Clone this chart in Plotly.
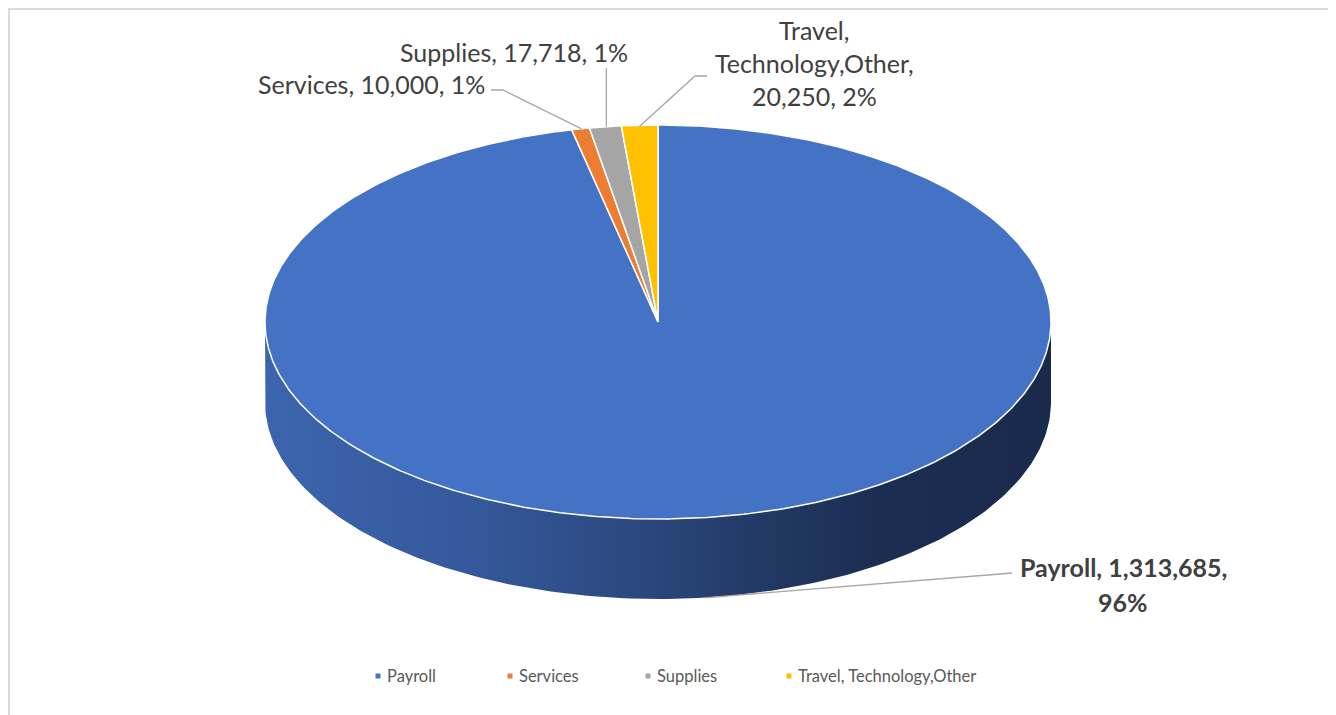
import numpy as np
import plotly.graph_objects as go

# ---- data ----
categories = ["Payroll", "Services", "Supplies", "Travel, Technology,Other"]
values = [1313685, 10000, 17718, 20250]
pct_labels = ["96%", "1%", "1%", "2%"]
colors = ["#4472C4", "#ED7D31", "#A5A5A5", "#FFC000"]

# ---- geometry (pixel-like data space; page has an 8px body margin) ----
W, H = 1336, 715
OFF = 8
cx, cy, rx, ry, depth = 658, 322, 393, 197, 80
FONT = "Lato"
TXT = "#404040"

def ell(theta_deg, dy=0.0):
    t = np.radians(theta_deg)
    return cx + rx * np.sin(t), cy - ry * np.cos(t) + dy

total = float(sum(values))
fracs = [v / total for v in values]
cum = np.concatenate([[0], np.cumsum(fracs)])

fig = go.Figure()

# side face (front half of the cylinder wall)
th = np.linspace(90, 270, 200)
xt, yt = ell(th)
xb, yb = ell(th[::-1], depth)
fig.add_trace(go.Scatter(
    x=np.concatenate([xt, xb]), y=np.concatenate([yt, yb]),
    mode="lines", fill="toself", line=dict(width=0, color="rgba(0,0,0,0)"),
    fillgradient=dict(type="horizontal", colorscale=[
        [0.0, "#3C65AD"], [0.25, "#35599C"], [0.45, "#2C4A82"],
        [0.62, "#223A66"], [0.78, "#1C2D52"], [1.0, "#1A2A4C"]]),
    hoverinfo="skip", showlegend=False))

# top face slices
for i, (cat, col) in enumerate(zip(categories, colors)):
    a0, a1 = cum[i] * 360, cum[i + 1] * 360
    n = max(4, int((a1 - a0) * 2))
    tt = np.linspace(a0, a1, n)
    xs, ys = ell(tt)
    fig.add_trace(go.Scatter(
        x=np.concatenate([[cx], xs, [cx]]), y=np.concatenate([[cy], ys, [cy]]),
        mode="lines", fill="toself", fillcolor=col,
        line=dict(color="white", width=1.5),
        hoverinfo="skip", showlegend=False, name=cat))

# leader lines and labels
mids = [(cum[i] + cum[i + 1]) / 2 * 360 for i in range(len(values))]
line_col = "#A6A6A6"

def leader(pts):
    fig.add_trace(go.Scatter(x=[p[0] for p in pts], y=[p[1] for p in pts],
                             mode="lines", line=dict(color=line_col, width=1.3),
                             hoverinfo="skip", showlegend=False))

px, py = ell(mids[0], depth)
leader([(1012, 573), (1000, 574), (px + 3, py)])
sx, sy = ell(mids[1])
leader([(491, 90), (503, 90), (sx + 1, sy)])
ux, uy = ell(mids[2])
leader([(ux + 1, 68), (ux + 1, uy)])
tx, ty = ell(mids[3])
leader([(707, 76), (695, 76), (tx, ty + 1)])

def ann(x, y, text, xanchor="center", size=25, bold=False):
    fig.add_annotation(x=x, y=y, xref="x", yref="y", text=f"<b>{text}</b>" if bold else text,
                       showarrow=False, xanchor=xanchor, yanchor="middle",
                       font=dict(family=FONT, size=size, color=TXT))

ann(1123, 567, f"{categories[0]}, {values[0]:,},", bold=True, size=25)
ann(1123, 602, pct_labels[0], bold=True, size=25)
ann(487, 84, f"{categories[1]}, {values[1]:,}, {pct_labels[1]}", xanchor="right")
ann(514, 52, f"{categories[2]}, {values[2]:,}, {pct_labels[2]}")
tparts = categories[3].split(", ")
ann(814, 30, tparts[0] + ",")
ann(814, 63, tparts[1] + ",")
ann(814, 96, f"{values[3]:,}, {pct_labels[3]}")

# legend (drawn manually)
leg_x = [378, 510, 648, 789]
leg_y = 676
fig.add_trace(go.Scatter(x=leg_x, y=[leg_y] * 4, mode="markers",
                         marker=dict(symbol="square", size=5, color=colors),
                         hoverinfo="skip", showlegend=False))
for lx, cat in zip(leg_x, categories):
    fig.add_annotation(x=lx + 7, y=leg_y, xref="x", yref="y", text=cat, showarrow=False,
                       xanchor="left", yanchor="middle",
                       font=dict(family=FONT, size=16.5, color="#595959"))

# outer border
fig.add_shape(type="rect", xref="x", yref="y", x0=9, y0=9, x1=1333.5, y1=716,
              line=dict(color="#D9D9D9", width=2), fillcolor="rgba(0,0,0,0)")

fig.update_layout(
    width=W, height=H, margin=dict(l=0, r=0, t=0, b=0),
    paper_bgcolor="white", plot_bgcolor="white", showlegend=False,
    xaxis=dict(range=[OFF, W + OFF], visible=False, fixedrange=True),
    yaxis=dict(range=[H + OFF, OFF], visible=False, fixedrange=True),
)
fig.write_html("out.html")
